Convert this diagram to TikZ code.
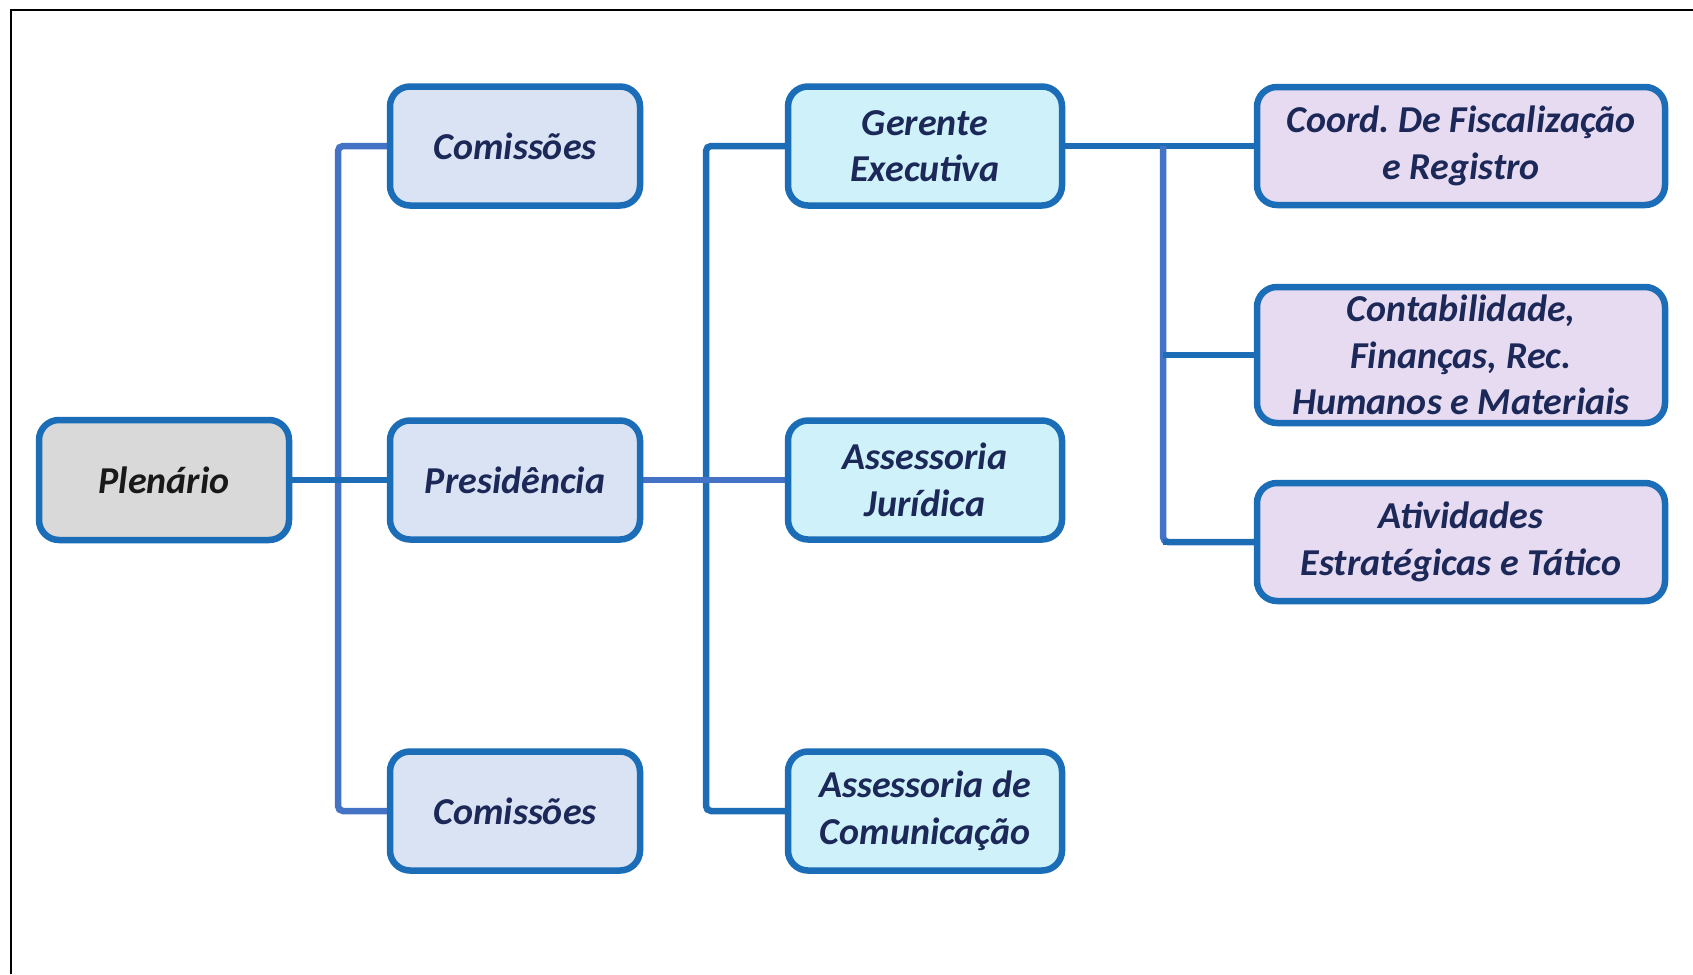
\documentclass[tikz,border=0pt]{standalone}
\usepackage{fontspec}
\setmainfont{Carlito}
\usetikzlibrary{backgrounds}
\frenchspacing
\definecolor{boxline}{HTML}{1A6DB6}
\definecolor{cdark}{HTML}{1C6DB5}
\definecolor{clight}{HTML}{4472C4}
\definecolor{txt}{HTML}{1B2858}
\definecolor{fgray}{HTML}{D9D9D9}
\definecolor{fblue}{HTML}{DAE3F3}
\definecolor{fcyan}{HTML}{CFF1FA}
\definecolor{flav}{HTML}{E6DBF1}
\tikzset{
  orgbox/.style={draw=boxline, line width=6.5pt, rounded corners=20pt, align=center,
    font=\fontsize{38}{46.5}\selectfont\bfseries\itshape, text=txt, inner sep=0pt},
  lvlA/.style={orgbox, minimum width=250pt, minimum height=119pt},
  lvlB/.style={orgbox, minimum width=274pt, minimum height=119pt},
  lvlC/.style={orgbox, minimum width=408pt, minimum height=118pt},
  darkconn/.style={draw=cdark, line width=6.5pt, rounded corners=5pt},
  lightconn/.style={draw=clight, line width=6.5pt, rounded corners=5pt},
}
\begin{document}
\begin{tikzpicture}[x=1pt,y=-1pt]
\useasboundingbox (0,0) rectangle (1693,974);

\node[orgbox, fill=fgray, text=black!90, minimum width=250pt, minimum height=120pt] (ple) at (164,480) {Plenário};
\node[lvlA, fill=fblue] (com1) at (515,146) {Comissões};
\node[lvlA, fill=fblue] (pres) at (515,480) {Presidência};
\node[lvlA, fill=fblue] (com2) at (515,811) {Comissões};

\node[lvlB, fill=fcyan] (ger) at (925,146) {Gerente\\Executiva};
\node[lvlB, fill=fcyan] (jur) at (925,480) {Assessoria\\Jurídica};
\node[lvlB, fill=fcyan] (comu) at (925,811) {Assessoria de\\Comunicação};

\node[lvlC, fill=flav] (coord) at (1461,146) {Coord. De Fiscalização\\e Registro};
\node[lvlC, fill=flav, minimum height=136pt] (cont) at (1461,355) {Contabilidade,\\Finanças, Rec.\\Humanos e Materiais};
\node[lvlC, fill=flav] (ativ) at (1461,542) {Atividades\\Estratégicas e Tático};

\coordinate (busA) at (338,480);
\coordinate (busB) at (706,480);
\coordinate (busC) at (1163,146);

\begin{scope}[on background layer]
\fill[white] (0,0) rectangle (1693,974);
\draw[black, line width=2.5pt] (11,974) -- (11,10) -- (1693,10);
\draw[lightconn] (com1.west) -| (busA) |- (com2.west);
\draw[darkconn] (ple.east) -- (pres.west);
\draw[darkconn] (ger.west) -| (busB) |- (comu.west);
\draw[lightconn] (pres.east) -- (jur.west);
\draw[darkconn] (ger.east) -- (coord.west);
\draw[lightconn] (busC) |- (ativ.west);
\draw[darkconn] (busC |- cont.west) -- (cont.west);
\draw[darkconn] (busC |- ativ.west) -- (ativ.west);
\end{scope}
\end{tikzpicture}
\end{document}
